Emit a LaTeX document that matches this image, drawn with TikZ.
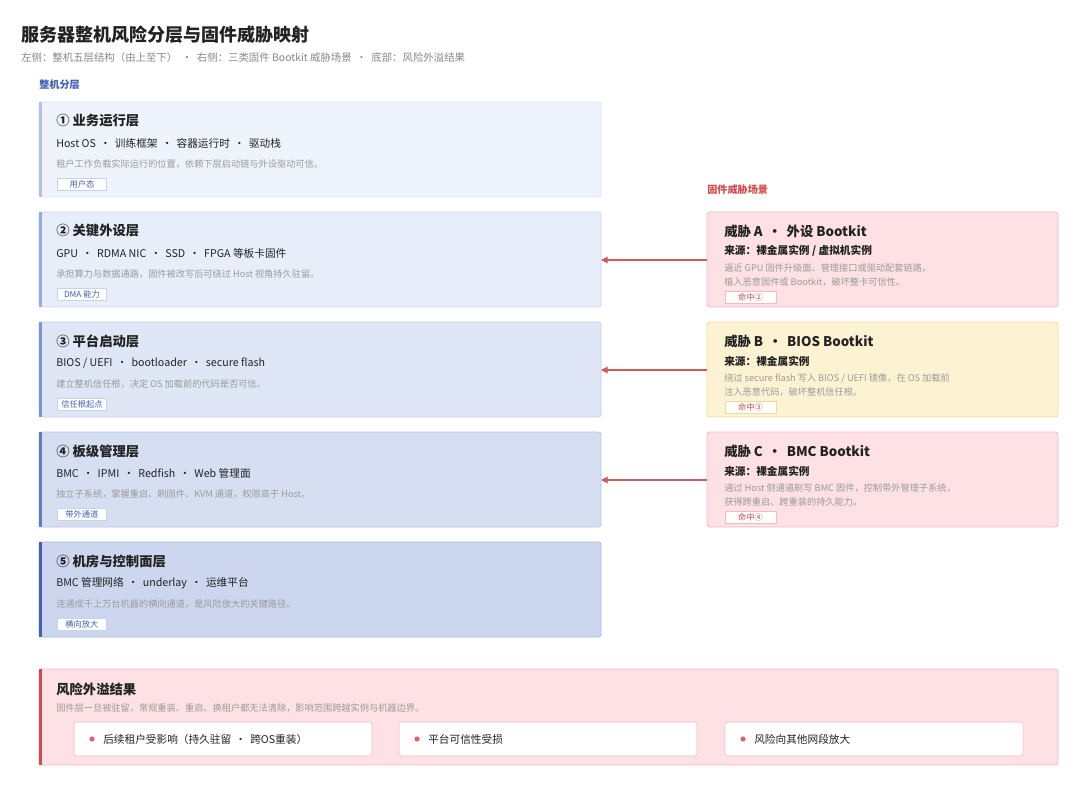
\documentclass[tikz,border=0pt]{standalone}
\usepackage{fontspec}
\setmainfont{Noto Sans CJK SC}
\usetikzlibrary{positioning,arrows.meta}
\definecolor{titlegray}{HTML}{222222}
\definecolor{subgray}{HTML}{888888}
\definecolor{descgray}{HTML}{9A9A9A}
\definecolor{layerblue}{HTML}{3F62B5}
\definecolor{threatred}{HTML}{D24B4B}
\definecolor{redfill}{HTML}{FDE1E4}
\definecolor{redline}{HTML}{F1BCC1}
\definecolor{yelfill}{HTML}{FDF3D2}
\definecolor{yelline}{HTML}{EEDC9E}
\definecolor{arrowred}{HTML}{CF5B5B}
\definecolor{tagline}{HTML}{C9D3E8}
\tikzset{
    tagbox/.style={draw=tagline, fill=white, inner sep=0pt, minimum width=37pt, minimum height=9pt, font=\fontsize{6.2}{7}\selectfont, text=#1},
    ttl/.style={anchor=west, inner sep=0pt, font=\fontsize{10}{12}\selectfont\bfseries, text=titlegray},
    tech/.style={anchor=west, inner sep=0pt, font=\fontsize{8}{10}\selectfont, text=titlegray},
    desc/.style={anchor=west, inner sep=0pt, font=\fontsize{6.9}{10.5}\selectfont, text=descgray, align=left},
    hit/.style={-{Triangle[length=5pt,width=5pt]}, draw=arrowred, line width=0.9pt},
  }
\begin{document}
\begin{tikzpicture}[x=0.75pt,y=-0.75pt]
  \useasboundingbox[fill=white] (0,0) rectangle (1080,787);

  %HEADER
  \node[anchor=west,inner sep=0pt,font=\fontsize{13.5}{15}\selectfont\bfseries,text=titlegray] (title) at (21,35) {服务器整机风险分层与固件威胁映射};
  \node[anchor=west,inner sep=0pt,font=\fontsize{7.8}{9}\selectfont,text=subgray] (sub) at (21,58) {左侧：整机五层结构（由上至下）\ \ ·\ \ 右侧：三类固件 Bootkit 威胁场景\ \ ·\ \ 底部：风险外溢结果};
  \node[anchor=west,inner sep=0pt,font=\fontsize{7.6}{9}\selectfont\bfseries,text=layerblue] (lefthead) at (39,85) {整机分层};
  \node[anchor=west,inner sep=0pt,font=\fontsize{7.6}{9}\selectfont\bfseries,text=threatred] (righthead) at (707,190) {固件威胁场景};

  %LAYERS
  \foreach \i/\fil/\bar/\ttl/\tech/\desc/\tag in {
    1/EEF3FC/AFC2E8/{① 业务运行层}/{Host OS \,·\, 训练框架 \,·\, 容器运行时 \,·\, 驱动栈}/{租户工作负载实际运行的位置，依赖下层启动链与外设驱动可信。}/用户态,
    2/E7EEFA/94ABDF/{② 关键外设层}/{GPU \,·\, RDMA NIC \,·\, SSD \,·\, FPGA 等板卡固件}/{承担算力与数据通路，固件被改写后可绕过 Host 视角持久驻留。}/DMA 能力,
    3/DFE6F5/7A95D3/{③ 平台启动层}/{BIOS / UEFI \,·\, bootloader \,·\, secure flash}/{建立整机信任根，决定 OS 加载前的代码是否可信。}/信任根起点,
    4/D6DFF2/5E7DC6/{④ 板级管理层}/{BMC \,·\, IPMI \,·\, Redfish \,·\, Web 管理面}/{独立子系统，掌握重启、刷固件、KVM 通道，权限高于 Host。}/带外通道,
    5/CCD7EF/4263B5/{⑤ 机房与控制面层}/{BMC 管理网络 \,·\, underlay \,·\, 运维平台}/{连通成千上万台机器的横向通道，是风险放大的关键路径。}/横向放大}{
    \pgfmathsetmacro{\top}{102+(\i-1)*110}
    \definecolor{lf}{HTML}{\fil}
    \definecolor{lb}{HTML}{\bar}
    \draw[fill=lf, draw=lb!45!white, rounded corners=2pt, line width=0.6pt] (39,\top) rectangle (601,\top+95);
    \fill[lb] (39,\top) rectangle (42,\top+95);
    \coordinate (L\i) at (601,\top+48);
    \node[ttl] (lt\i) at (56,\top+19) {\ttl};
    \node[tech] (lk\i) at (56,\top+41) {\tech};
    \node[desc] (ld\i) at (56,\top+62) {\desc};
    \node[tagbox=layerblue, anchor=west] (lg\i) at (57,\top+82) {\tag};
  }

  %THREATS
  \foreach \j/\k/\fil/\lin/\ttl/\src/\desc/\tag in {
    A/2/redfill/redline/{威胁 A \,·\, 外设 Bootkit}/{来源：裸金属实例 / 虚拟机实例}/{逼近 GPU 固件升级面、管理接口或驱动配套链路，\\植入恶意固件或 Bootkit，破坏整卡可信性。}/命中②,
    B/3/yelfill/yelline/{威胁 B \,·\, BIOS Bootkit}/{来源：裸金属实例}/{绕过 secure flash 写入 BIOS / UEFI 镜像，在 OS 加载前\\注入恶意代码，破坏整机信任根。}/命中③,
    C/4/redfill/redline/{威胁 C \,·\, BMC Bootkit}/{来源：裸金属实例}/{通过 Host 侧通道刷写 BMC 固件，控制带外管理子系统，\\获得跨重启、跨重装的持久能力。}/命中④}{
    \pgfmathsetmacro{\top}{102+(\k-1)*110}
    \draw[fill=\fil, draw=\lin, rounded corners=2pt, line width=0.6pt] (707,\top) rectangle (1058,\top+95);
    \coordinate (T\j) at (707,\top+48);
    \node[ttl] (tt\j) at (724,\top+19) {\ttl};
    \node[tech, font=\fontsize{8}{10}\selectfont\bfseries] (ts\j) at (724,\top+39) {\src};
    \node[desc] (td\j) at (724,\top+63) {\desc};
    \node[tagbox=threatred, anchor=west, draw=\lin, minimum width=38pt] (tg\j) at (725,\top+85) {\tag};
    \draw[hit] (T\j) -- (L\k);
  }

  %RESULT
  \draw[fill=redfill, draw=redline, rounded corners=2pt, line width=0.6pt] (39,669) rectangle (1058,765);
  \fill[threatred] (39,669) rectangle (41.5,765);
  \node[ttl] (rt) at (56,689) {风险外溢结果};
  \node[desc] (rd) at (56,708) {固件层一旦被驻留，常规重装、重启、换租户都无法清除，影响范围跨越实例与机器边界。};
  \foreach \n/\x/\txt in {1/74/{后续租户受影响（持久驻留 \,·\, 跨OS重装）}, 2/399/{平台可信性受损}, 3/725/{风险向其他网段放大}}{
    \draw[fill=white, draw=redline, rounded corners=2pt] (\x,722) rectangle (\x+298,756);
    \fill[threatred!85] (\x+18,739) circle (2.6);
    \node[tech] (r\n) at (\x+29,739) {\txt};
  }
\end{tikzpicture}
\end{document}
